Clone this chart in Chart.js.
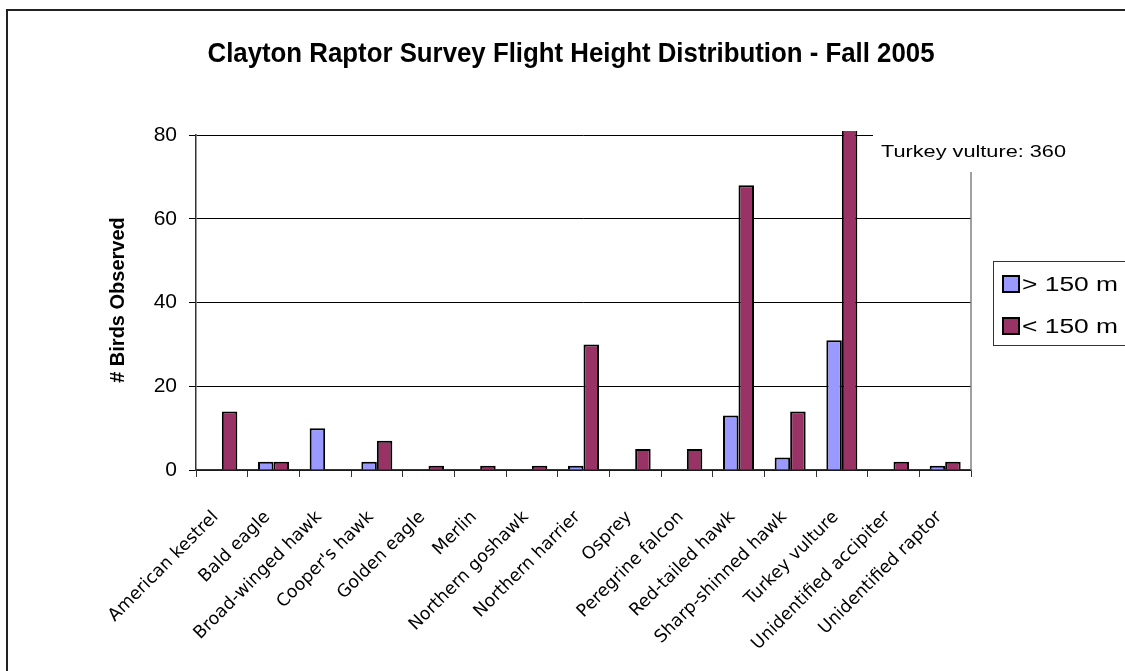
<!DOCTYPE html>
<html>
<head>
<meta charset="utf-8">
<script src="https://cdn.jsdelivr.net/npm/chart.js@4.4.1/dist/chart.umd.min.js"></script>
<style>
  html, body { margin: 0; padding: 0; background: #fff; }
  #wrap { width: 1125px; height: 671px; }
</style>
</head>
<body>
<div id="wrap"><canvas id="myChart" width="1125" height="671"></canvas></div>
<script>
const species = ['American kestrel', 'Bald eagle', 'Broad-winged hawk', "Cooper's hawk", 'Golden eagle',
  'Merlin', 'Northern goshawk', 'Northern harrier', 'Osprey', 'Peregrine falcon', 'Red-tailed hawk',
  'Sharp-shinned hawk', 'Turkey vulture', 'Unidentified accipiter', 'Unidentified raptor'];
const above150 = [0, 2, 10, 2, 0, 0, 0, 1, 0, 0, 13, 3, 31, 0, 1];
const below150 = [14, 2, 0, 7, 1, 1, 1, 30, 5, 5, 68, 14, 360, 2, 2];
const seriesNames = ['> 150 m', '< 150 m'];
const yTicks = [0, 20, 40, 60, 80];
const chartTitle = 'Clayton Raptor Survey Flight Height Distribution - Fall 2005';
const yTitle = '# Birds Observed';
const callout = 'Turkey vulture: 360';

const colors = ['#9999FF', '#993366'];
const ctx = document.getElementById('myChart');

// title, axis title, callout box and legend are drawn by hand
const decor = {
  id: 'decor',
  beforeDraw(chart) {
    const c = chart.ctx;
    c.save();
    c.fillStyle = '#fff';
    c.fillRect(0, 0, chart.width, chart.height);
    c.strokeStyle = '#222';
    c.lineWidth = 2;
    c.beginPath();
    c.moveTo(7, chart.height);
    c.lineTo(7, 10);
    c.lineTo(chart.width, 10);
    c.stroke();
    c.restore();
  },
  afterDraw(chart) {
    const c = chart.ctx;
    const area = chart.chartArea;
    c.save();
    // plot area right edge
    c.strokeStyle = '#808080';
    c.lineWidth = 1.5;
    c.beginPath();
    c.moveTo(area.right, area.top);
    c.lineTo(area.right, area.bottom);
    c.stroke();

    // callout box
    c.fillStyle = '#fff';
    c.fillRect(873, area.top - 3, 200, 40);
    c.fillStyle = '#000';
    c.font = '16px "Liberation Sans", Arial, sans-serif';
    c.textBaseline = 'alphabetic';
    c.textAlign = 'left';
    c.save();
    c.translate(881, 157);
    c.scale(185 / c.measureText(callout).width, 1);
    c.fillText(callout, 0, 0);
    c.restore();

    // title
    c.font = 'bold 28px "Liberation Sans", Arial, sans-serif';
    c.textAlign = 'center';
    const tw = c.measureText(chartTitle).width;
    c.save();
    c.translate(571, 62);
    c.scale(727 / tw, 1);
    c.fillText(chartTitle, 0, 0);
    c.restore();

    // y axis title
    c.font = 'bold 20px "Liberation Sans", Arial, sans-serif';
    c.save();
    c.translate(118, 300);
    c.rotate(-Math.PI / 2);
    c.textBaseline = 'middle';
    c.fillText(yTitle, 0, 0);
    c.restore();

    // legend
    c.strokeStyle = '#333';
    c.lineWidth = 1;
    c.fillStyle = '#fff';
    c.fillRect(993.5, 261.5, 140, 84);
    c.strokeRect(993.5, 261.5, 140, 84);
    c.font = '20px "Liberation Sans", Arial, sans-serif';
    c.textAlign = 'left';
    c.textBaseline = 'middle';
    seriesNames.forEach((name, i) => {
      const y = 284 + i * 42;
      c.fillStyle = colors[i];
      c.fillRect(1003, y - 8, 16, 16);
      c.strokeStyle = '#000';
      c.lineWidth = 2;
      c.strokeRect(1003, y - 8, 16, 16);
      c.fillStyle = '#000';
      c.save();
      c.translate(1022, y + 1);
      c.scale(96 / c.measureText(name).width, 1);
      c.fillText(name, 0, 0);
      c.restore();
    });
    c.restore();
  }
};

new Chart(ctx, {
  type: 'bar',
  data: {
    labels: species,
    datasets: [{
      label: seriesNames[0],
      data: above150,
      backgroundColor: colors[0],
      borderColor: '#000',
      borderWidth: 2,
      clip: { left: 0, top: 4, right: 0, bottom: 0 }
    }, {
      label: seriesNames[1],
      data: below150,
      backgroundColor: colors[1],
      borderColor: '#000',
      borderWidth: 2,
      clip: { left: 0, top: 4, right: 0, bottom: 0 }
    }]
  },
  options: {
    responsive: false,
    animation: false,
    layout: { padding: { left: 0, top: 135, right: 154, bottom: 0 } },
    datasets: { bar: { barPercentage: 1, categoryPercentage: 0.6 } },
    plugins: {
      legend: { display: false },
      title: { display: false },
      tooltip: { enabled: false }
    },
    scales: {
      x: {
        grid: { offset: true, drawOnChartArea: false, drawTicks: true, tickLength: 7, color: '#333', lineWidth: 1 },
        border: { color: '#333', width: 1.5 },
        ticks: {
          autoSkip: false, minRotation: 45, maxRotation: 45, padding: 30, labelOffset: -6, color: '#000',
          font: { family: '"DejaVu Sans", Verdana, sans-serif', size: 17.5 }
        },
        afterFit(scale) { scale.height = 201; }
      },
      y: {
        min: 0,
        max: 80,
        afterBuildTicks(scale) { scale.ticks = yTicks.map(v => ({ value: v })); },
        grid: { color: '#000', lineWidth: 1, tickLength: 7 },
        border: { color: '#333', width: 1.5 },
        ticks: {
          padding: 12, color: '#000',
          font: { family: '"Liberation Sans", Arial, sans-serif', size: 21 }
        },
        afterFit(scale) { scale.width = 196; }
      }
    }
  },
  plugins: [decor]
});
</script>
</body>
</html>
